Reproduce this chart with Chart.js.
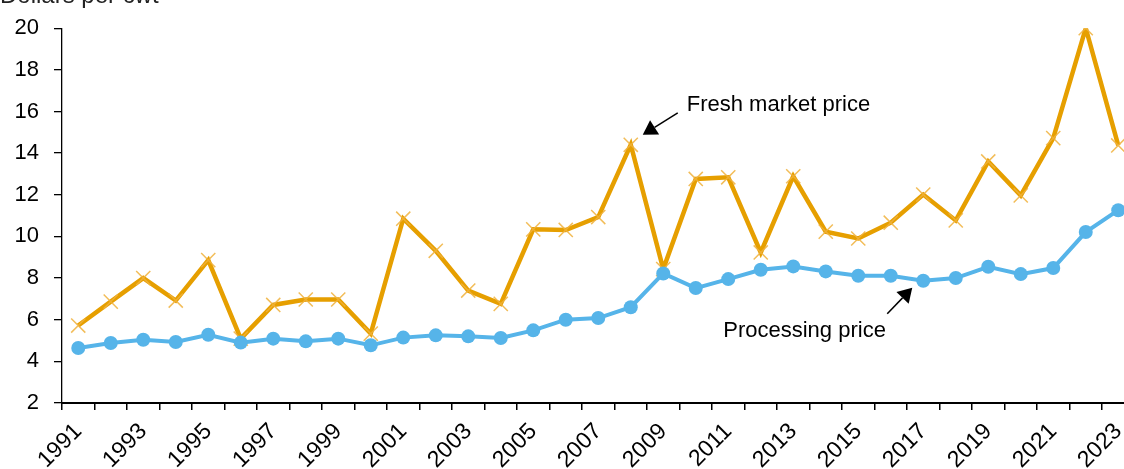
<!DOCTYPE html>
<html>
<head>
<meta charset="utf-8">
<script src="https://cdn.jsdelivr.net/npm/chart.js@4.4.1/dist/chart.umd.min.js"></script>
<style>
  html, body { margin: 0; padding: 0; overflow: hidden; background: #fff; }
  .chart-container { position: absolute; left: 0; top: 0; width: 1146px; height: 469px; }
</style>
</head>
<body>
<div class="chart-container">
  <canvas id="priceChart" width="1146" height="469"></canvas>
</div>
<script>
  const years = ["1991", "1992", "1993", "1994", "1995", "1996", "1997", "1998", "1999", "2000",
    "2001", "2002", "2003", "2004", "2005", "2006", "2007", "2008", "2009", "2010",
    "2011", "2012", "2013", "2014", "2015", "2016", "2017", "2018", "2019", "2020",
    "2021", "2022", "2023"];

  // Dollars per cwt
  const freshPrice = [5.72, 6.87, 8.0, 6.92, 8.86, 5.09, 6.71, 6.97, 6.97, 5.33,
    10.85, 9.31, 7.40, 6.76, 10.34, 10.31, 10.93, 14.40, 8.43, 12.76,
    12.84, 9.23, 12.89, 10.23, 9.90, 10.66, 12.01, 10.77, 13.60, 11.97,
    14.72, 20.0, 14.37];
  const processingPrice = [4.64, 4.88, 5.04, 4.93, 5.28, 4.90, 5.09, 4.96, 5.09, 4.77,
    5.14, 5.25, 5.20, 5.12, 5.49, 6.00, 6.08, 6.60, 8.22, 7.52,
    7.95, 8.40, 8.56, 8.32, 8.11, 8.11, 7.87, 8.00, 8.54, 8.19,
    8.48, 10.21, 11.26];

  const yMin = 2, yMax = 20, yStep = 2;
  const unitLabel = "Dollars per cwt";

  const FONT = "'Liberation Sans', Arial, sans-serif";

  function drawArrow(ctx, x1, y1, x2, y2) {
    const ang = Math.atan2(y2 - y1, x2 - x1);
    const len = 14, half = 8.5;
    const bx = x2 - Math.cos(ang) * len, by = y2 - Math.sin(ang) * len;
    ctx.beginPath();
    ctx.moveTo(x1, y1);
    ctx.lineTo(bx, by);
    ctx.lineWidth = 1.5;
    ctx.strokeStyle = "#000";
    ctx.stroke();
    ctx.beginPath();
    ctx.moveTo(x2, y2);
    ctx.lineTo(bx + Math.sin(ang) * half, by - Math.cos(ang) * half);
    ctx.lineTo(bx - Math.sin(ang) * half, by + Math.cos(ang) * half);
    ctx.closePath();
    ctx.fillStyle = "#000";
    ctx.fill();
  }

  // series labels with arrows, placed relative to a point on each line
  const seriesNotes = {
    id: "seriesNotes",
    afterDraw(chart) {
      const ctx = chart.ctx;
      const x = chart.scales.x, y = chart.scales.y;
      const notes = [
        { text: "Fresh market price", i: years.indexOf("2008"), v: freshPrice, tip: [12, -10], tail: [47, -32], label: [56, -34] },
        { text: "Processing price", i: years.indexOf("2017"), v: processingPrice, tip: [-11, 7], tail: [-36, 33], label: [-200, 56] }
      ];
      ctx.save();
      notes.forEach(n => {
        const px = x.getPixelForValue(n.i), py = y.getPixelForValue(n.v[n.i]);
        drawArrow(ctx, px + n.tail[0], py + n.tail[1], px + n.tip[0], py + n.tip[1]);
        ctx.font = "22px " + FONT;
        ctx.fillStyle = "#000";
        ctx.textAlign = "left";
        ctx.textBaseline = "alphabetic";
        ctx.fillText(n.text, px + n.label[0], py + n.label[1]);
      });
      // unit label above the value axis
      ctx.font = "24px " + FONT;
      ctx.fillStyle = "#222";
      ctx.textAlign = "left";
      ctx.textBaseline = "alphabetic";
      ctx.fillText(unitLabel, 0, 3);
      ctx.restore();
    }
  };

  const ctx = document.getElementById("priceChart").getContext("2d");
  new Chart(ctx, {
    type: "line",
    data: {
      labels: years,
      datasets: [
        {
          label: "Processing price",
          data: processingPrice,
          borderColor: "#56B4E9",
          backgroundColor: "#56B4E9",
          borderWidth: 4,
          pointStyle: "circle",
          pointRadius: 7,
          pointBorderWidth: 0,
          pointBackgroundColor: "#56B4E9",
          tension: 0,
          order: 0
        },
        {
          label: "Fresh market price",
          data: freshPrice,
          borderColor: "#E69F00",
          backgroundColor: "#E69F00",
          borderWidth: 4.5,
          pointStyle: "crossRot",
          pointRadius: 10,
          pointBorderWidth: 1.5,
          pointBorderColor: "rgba(240, 178, 60, 0.85)",
          tension: 0,
          order: 1
        }
      ]
    },
    options: {
      responsive: false,
      animation: false,
      devicePixelRatio: 1,
      layout: { padding: { left: 0, top: 26, right: 0, bottom: 0 } },
      plugins: { legend: { display: false }, tooltip: { enabled: false } },
      scales: {
        x: {
          type: "category",
          offset: true,
          grid: {
            offset: true,
            drawOnChartArea: false,
            drawTicks: true,
            tickLength: 7,
            color: "#000",
            lineWidth: 1.5
          },
          border: { display: true, color: "#000", width: 2 },
          ticks: {
            autoSkip: false,
            maxRotation: 45,
            minRotation: 45,
            padding: 8,
            color: "#000",
            font: { family: FONT, size: 23 },
            callback: function (val, idx) { return idx % 2 === 0 ? years[idx] : ""; }
          },
          afterFit(scale) { scale.height = 66; }
        },
        y: {
          min: yMin,
          max: yMax,
          grid: {
            drawOnChartArea: false,
            drawTicks: true,
            tickLength: 8,
            color: "#000",
            lineWidth: 1.3
          },
          border: { display: true, color: "#000", width: 1.3 },
          ticks: {
            stepSize: yStep,
            padding: 15,
            color: "#000",
            font: { family: FONT, size: 22 }
          },
          afterFit(scale) { scale.width = 62; }
        }
      }
    },
    plugins: [seriesNotes]
  });
</script>
</body>
</html>
